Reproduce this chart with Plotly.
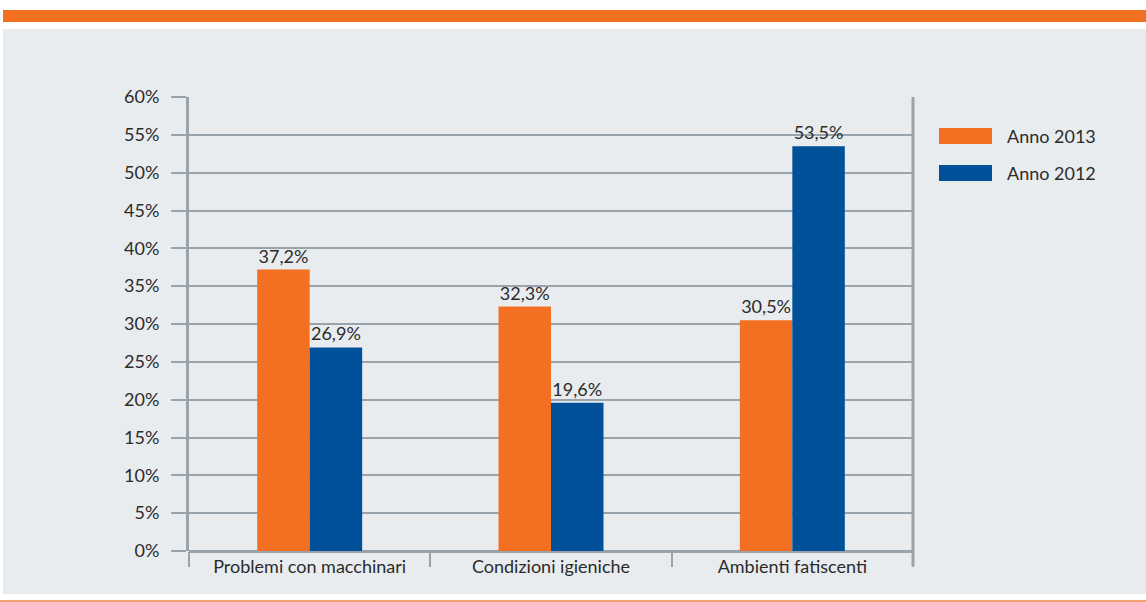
import plotly.graph_objects as go

categories = ["Problemi con macchinari", "Condizioni igieniche", "Ambienti fatiscenti"]
series_names = ["Anno 2013", "Anno 2012"]
values_2013 = [37.2, 32.3, 30.5]
values_2012 = [26.9, 19.6, 53.5]
y_ticks = [0, 5, 10, 15, 20, 25, 30, 35, 40, 45, 50, 55, 60]

ORANGE = "#F36F21"
BLUE = "#00519A"
GRID = "#98A3AB"
BG = "#E8ECEF"
TXT = "#2B2B2B"
FONT = "Lato"
FS = 18

def lab(v):
    return [f"{x:.1f}".replace(".", ",") + "%" for x in v]

fig = go.Figure()
for name, vals, col in [(series_names[0], values_2013, ORANGE), (series_names[1], values_2012, BLUE)]:
    fig.add_trace(go.Bar(
        x=categories, y=vals, name=name, marker=dict(color=col, line=dict(width=0)),
        text=lab(vals), textposition="outside", cliponaxis=False,
        textfont=dict(family=FONT, size=FS, color=TXT), showlegend=False,
    ))

W, H = 1146, 602
L, R, T, B = 189, 913, 97, 551

def px(x):
    return (x - L) / (R - L)

def py(y):
    return (B - y) / (B - T)

shapes = [
    dict(type="rect", xref="paper", yref="paper", x0=px(3), x1=px(W),
         y0=py(594), y1=py(29), fillcolor=BG, line=dict(width=0), layer="below"),
    dict(type="rect", xref="paper", yref="paper", x0=px(3), x1=px(W),
         y0=py(22), y1=py(10), fillcolor=ORANGE, line=dict(width=0), layer="below"),
    dict(type="rect", xref="paper", yref="paper", x0=px(0), x1=px(W),
         y0=py(602), y1=py(600), fillcolor="#F0A070", line=dict(width=0), layer="below"),
    dict(type="line", xref="paper", yref="paper", x0=1, x1=1, y0=py(566), y1=1,
         line=dict(color=GRID, width=3)),
]

annotations = []
for i, (name, col) in enumerate([(series_names[0], ORANGE), (series_names[1], BLUE)]):
    yc = 136 + i * 37
    shapes.append(dict(type="rect", xref="paper", yref="paper",
                       x0=px(939), x1=px(992), y0=py(yc + 8), y1=py(yc - 8),
                       fillcolor=col, line=dict(width=0)))
    annotations.append(dict(xref="paper", yref="paper", x=px(1005), y=py(yc),
                            text=name, showarrow=False, xanchor="left", yanchor="middle",
                            font=dict(family=FONT, size=FS, color=TXT)))

fig.update_layout(
    width=W, height=H,
    margin=dict(l=L, r=W - R, t=T, b=H - B, pad=0),
    paper_bgcolor="white", plot_bgcolor=BG,
    barmode="group", bargap=0.565, bargroupgap=0,
    font=dict(family=FONT, size=FS, color=TXT),
    shapes=shapes, annotations=annotations,
    xaxis=dict(showgrid=False, ticks="outside", tickson="boundaries", ticklen=15, tickwidth=2,
               tickcolor=GRID, showline=False, zeroline=False, ticklabelstandoff=3,
               tickfont=dict(family=FONT, size=FS, color=TXT)),
    yaxis=dict(range=[0, 60], tickmode="array", tickvals=y_ticks,
               ticktext=[f"{v}%" for v in y_ticks],
               showgrid=True, gridcolor=GRID,
               gridwidth=2, zeroline=True, zerolinecolor=GRID, zerolinewidth=3,
               showline=True, linecolor=GRID, linewidth=3,
               ticks="outside", ticklen=15, tickwidth=2, tickcolor=GRID,
               ticklabelstandoff=8,
               tickfont=dict(family=FONT, size=FS, color=TXT)),
)

fig.write_html("out.html", config={"displayModeBar": False},
               post_script="document.body.style.margin='0';document.body.style.padding='0';")
